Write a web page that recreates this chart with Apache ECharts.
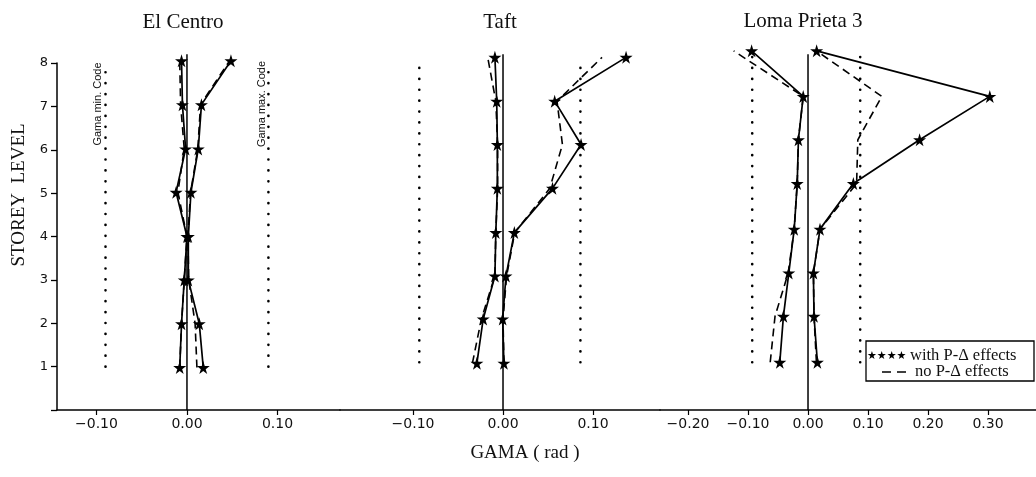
<!DOCTYPE html>
<html>
<head>
<meta charset="utf-8">
<script src="https://cdn.jsdelivr.net/npm/echarts@6/dist/echarts.min.js"></script>
<style>
  html, body { margin: 0; padding: 0; background: #fff; }
  #chart { width: 1036px; height: 477px; }
</style>
</head>
<body>
<div id="chart"></div>
<script>
// panel titles
const panelNames = ['El Centro', 'Taft', 'Loma Prieta 3'];

// storey levels as plotted in each panel
const elCentroLevels = [0.98, 1.99, 3, 4, 5.02, 6.02, 7.04, 8.05];
const taftLevels = [1.08, 2.1, 3.09, 4.09, 5.11, 6.12, 7.12, 8.13];
const lomaLevels = [1.1, 2.16, 3.16, 4.17, 5.22, 6.23, 7.23, 8.28];

// GAMA (rad), with P-delta effects (solid + stars)
const elCentroMinPD = [-0.008, -0.006, -0.003, 0.0, -0.012, -0.0015, -0.005, -0.006];
const elCentroMaxPD = [0.018, 0.0136, 0.0015, 0.0015, 0.0044, 0.0125, 0.016, 0.0486];
const taftMinPD = [-0.029, -0.022, -0.009, -0.008, -0.0063, -0.0063, -0.007, -0.009];
const taftMaxPD = [0.001, -0.0004, 0.0033, 0.0126, 0.055, 0.0867, 0.0574, 0.1367];
const lomaMinPD = [-0.047, -0.041, -0.032, -0.023, -0.018, -0.016, -0.008, -0.094];
const lomaMaxPD = [0.0156, 0.01, 0.009, 0.02, 0.0756, 0.186, 0.303, 0.0144];

// GAMA (rad), no P-delta effects (dashed)
const elCentroMinNo = [-0.008, -0.006, -0.003, 0.0, -0.01, -0.003, -0.007, -0.008];
const elCentroMaxNo = [0.011, 0.009, 0.002, 0.001, 0.004, 0.012, 0.015, 0.047];
const taftMinNo = [-0.034, -0.024, -0.009, -0.008, -0.006, -0.006, -0.008, -0.017];
const taftMaxNo = [0.001, 0.0, 0.004, 0.013, 0.052, 0.066, 0.06, 0.11];
const lomaMinNo = [-0.063, -0.055, -0.033, -0.023, -0.018, -0.016, -0.008, -0.124];
const lomaMaxNo = [0.014, 0.01, 0.009, 0.02, 0.081, 0.083, 0.123, 0.014];

// code limits (dotted verticals) and their vertical extent
const elCentroCode = [-0.09, 0.09];
const taftCode = [-0.093, 0.086];
const lomaCode = [-0.093, 0.087];
const elCentroCodeSpan = [1, 7.85];
const taftCodeSpan = [1.1, 7.93];
const lomaCodeSpan = [1.1, 8.2];

// zero reference line extent
const zeroSpan = [0, 8.2];

// tick labels
const elCentroTicks = [-0.1, 0, 0.1];
const taftTicks = [-0.1, 0, 0.1];
const lomaTicks = [-0.2, -0.1, 0, 0.1, 0.2, 0.3];

const STAR = 'path://M50,0 L61,35 L98,35 L68,57 L79,91 L50,70 L21,91 L32,57 L2,35 L39,35 Z';
const SERIF = '"Liberation Serif", "Times New Roman", serif';
const SANS = '"DejaVu Sans", sans-serif';

const chart = echarts.init(document.getElementById('chart'));

function pairs(xs, ys) {
  return xs.map((x, i) => [x, ys[i]]);
}

function fmt(v) {
  return (v < 0 ? '\u2212' : '') + Math.abs(v).toFixed(2);
}

function xAxisFor(idx, min, max, ticks) {
  return {
    type: 'value',
    gridIndex: idx,
    min: min,
    max: max,
    splitLine: { show: false },
    axisLine: { show: true, onZero: false, lineStyle: { color: '#000', width: 1.5 } },
    axisTick: { show: true, length: 5, customValues: ticks, lineStyle: { color: '#000', width: 1.2 } },
    axisLabel: {
      customValues: ticks,
      formatter: fmt,
      color: '#111',
      fontFamily: SANS,
      fontSize: 14,
      margin: 7,
    },
  };
}

function yAxisFor(idx, visible) {
  return {
    type: 'value',
    gridIndex: idx,
    min: 0,
    max: 8,
    interval: 1,
    show: visible,
    splitLine: { show: false },
    axisLine: { show: true, onZero: false, lineStyle: { color: '#000', width: 1.5 } },
    axisTick: { show: true, length: 6, lineStyle: { color: '#000', width: 1.3 } },
    axisLabel: {
      formatter: v => (v === 0 ? '' : String(v)),
      color: '#111',
      fontFamily: SANS,
      fontSize: 13,
      margin: 9,
    },
  };
}

function panelSeries(idx, levels, minPD, maxPD, minNo, maxNo, code, codeSpan) {
  const base = { type: 'line', xAxisIndex: idx, yAxisIndex: idx, animation: false, silent: true };
  const list = [];
  // zero line
  list.push(Object.assign({}, base, {
    data: zeroSpan.map(y => [0, y]),
    symbol: 'none',
    clip: false,
    lineStyle: { color: '#000', width: 1.5 },
  }));
  // code limits
  code.forEach(c => {
    list.push(Object.assign({}, base, {
      data: codeSpan.map(y => [c, y]),
      symbol: 'none',
      clip: false,
      lineStyle: { color: '#000', width: 2.6, type: [0.1, 10.8], cap: 'round' },
    }));
  });
  // no P-delta (dashed)
  [minNo, maxNo].forEach(xs => {
    list.push(Object.assign({}, base, {
      name: 'no P-\u0394 effects',
      data: pairs(xs, levels),
      symbol: 'none',
      clip: false,
      lineStyle: { color: '#000', width: 1.6, type: [8, 5] },
    }));
  });
  // with P-delta (solid + stars)
  [minPD, maxPD].forEach(xs => {
    list.push(Object.assign({}, base, {
      name: 'with P-\u0394 effects',
      data: pairs(xs, levels),
      symbol: STAR,
      symbolSize: 13,
      clip: false,
      itemStyle: { color: '#000' },
      lineStyle: { color: '#000', width: 1.7 },
    }));
  });
  return list;
}

const grids = [
  { left: 57, top: 63, width: 283, bottom: 67 },
  { left: 340, top: 63, width: 320, bottom: 67 },
  { left: 660, top: 63, width: 376, bottom: 67 },
];

const option = {
  backgroundColor: '#fff',
  animation: false,
  grid: grids,
  xAxis: [
    xAxisFor(0, -0.1436, 0.1691, elCentroTicks),
    xAxisFor(1, -0.1811, 0.1744, taftTicks),
    xAxisFor(2, -0.2467, 0.38, lomaTicks),
  ],
  yAxis: [yAxisFor(0, true), yAxisFor(1, false), yAxisFor(2, false)],
  series: [].concat(
    panelSeries(0, elCentroLevels, elCentroMinPD, elCentroMaxPD, elCentroMinNo, elCentroMaxNo, elCentroCode, elCentroCodeSpan),
    panelSeries(1, taftLevels, taftMinPD, taftMaxPD, taftMinNo, taftMaxNo, taftCode, taftCodeSpan),
    panelSeries(2, lomaLevels, lomaMinPD, lomaMaxPD, lomaMinNo, lomaMaxNo, lomaCode, lomaCodeSpan)
  ),
  graphic: [
    // panel titles
    { type: 'text', x: 183, y: 22, style: { text: panelNames[0], font: '21px ' + SERIF, fill: '#111', align: 'center', verticalAlign: 'middle' } },
    { type: 'text', x: 500, y: 22, style: { text: panelNames[1], font: '21px ' + SERIF, fill: '#111', align: 'center', verticalAlign: 'middle' } },
    { type: 'text', x: 803, y: 21, style: { text: panelNames[2], font: '21px ' + SERIF, fill: '#111', align: 'center', verticalAlign: 'middle' } },
    // axis names
    { type: 'text', x: 525, y: 453, style: { text: 'GAMA ( rad )', font: '19px ' + SERIF, fill: '#111', align: 'center', verticalAlign: 'middle' } },
    { type: 'text', x: 19, y: 195, rotation: Math.PI / 2, style: { text: 'STOREY  LEVEL', font: '19px ' + SERIF, fill: '#111', align: 'center', verticalAlign: 'middle' } },
    // code labels
    { type: 'text', x: 98, y: 104, rotation: Math.PI / 2, style: { text: 'Gama min. Code', font: '11px "Liberation Sans Narrow", "Liberation Sans", sans-serif', fill: '#111', align: 'center', verticalAlign: 'middle' } },
    { type: 'text', x: 262, y: 104, rotation: Math.PI / 2, style: { text: 'Gama max. Code', font: '11px "Liberation Sans Narrow", "Liberation Sans", sans-serif', fill: '#111', align: 'center', verticalAlign: 'middle' } },
    // legend box
    { type: 'rect', shape: { x: 866, y: 341, width: 168, height: 40 }, style: { fill: '#fff', stroke: '#000', lineWidth: 1.3 }, z: 10 },
    { type: 'text', x: 867, y: 356, z: 11, style: { text: '\u2605\u2605\u2605\u2605', font: '11px "DejaVu Sans", sans-serif', fill: '#000', align: 'left', verticalAlign: 'middle' } },
    { type: 'text', x: 910, y: 356, z: 11, style: { text: 'with P-\u0394 effects', font: '16.5px ' + SERIF, fill: '#111', align: 'left', verticalAlign: 'middle' } },
    { type: 'line', z: 11, shape: { x1: 882, y1: 372, x2: 910, y2: 372 }, style: { stroke: '#000', lineWidth: 1.4, lineDash: [9, 6] } },
    { type: 'text', x: 915, y: 372, z: 11, style: { text: 'no P-\u0394 effects', font: '16.5px ' + SERIF, fill: '#111', align: 'left', verticalAlign: 'middle' } },
  ],
};

chart.setOption(option);
</script>
</body>
</html>
